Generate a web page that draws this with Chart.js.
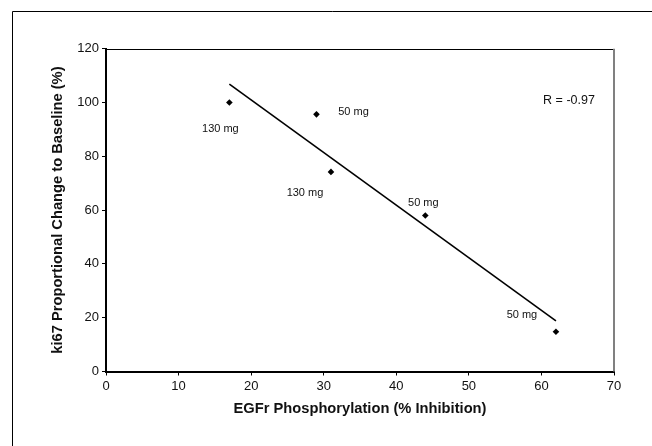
<!DOCTYPE html>
<html>
<head>
<meta charset="utf-8">
<script src="https://cdn.jsdelivr.net/npm/chart.js@4"></script>
<style>
  html, body { margin: 0; padding: 0; background: #fff; overflow: hidden; }
  canvas { display: block; }
</style>
</head>
<body>
<canvas id="c" width="652" height="446"></canvas>
<script>
// Data
const inhibition = [17, 29, 31, 44, 62];            // EGFr phosphorylation (% inhibition)
const ki67Change = [100, 95.6, 74.2, 58, 14.8];      // ki67 proportional change to baseline (%)
const doseLabels = ['130 mg', '50 mg', '130 mg', '50 mg', '50 mg'];
const trendX = [17, 62];
const trendY = [106.8, 18.8];
const xTicks = [0, 10, 20, 30, 40, 50, 60, 70];
const yTicks = [0, 20, 40, 60, 80, 100, 120];
const rText = 'R = -0.97';

// label offsets (pixels, relative to each point)
const labelOffsets = [[-9, 26], [37, -2], [-26, 21], [-2, -13], [-34, -17]];

const points = inhibition.map((x, i) => ({ x: x, y: ki67Change[i] }));
const trend = trendX.map((x, i) => ({ x: x, y: trendY[i] }));

const FONT = '"Liberation Sans", Arial, sans-serif';

const outerFrame = {
  id: 'outerFrame',
  beforeDraw(chart) {
    const ctx = chart.ctx;
    ctx.save();
    ctx.strokeStyle = '#000';
    ctx.lineWidth = 1;
    ctx.beginPath();
    ctx.moveTo(12.5, chart.height);
    ctx.lineTo(12.5, 11.5);
    ctx.lineTo(chart.width, 11.5);
    ctx.stroke();
    ctx.restore();
  }
};

const annotate = {
  id: 'annotate',
  afterDatasetsDraw(chart) {
    const ctx = chart.ctx;
    const meta = chart.getDatasetMeta(1);
    ctx.save();
    ctx.fillStyle = '#111';
    ctx.font = '11px ' + FONT;
    ctx.textAlign = 'center';
    ctx.textBaseline = 'middle';
    meta.data.forEach((el, i) => {
      const off = labelOffsets[i];
      ctx.fillText(doseLabels[i], el.x + off[0], el.y + off[1]);
    });
    const a = chart.chartArea;
    ctx.font = '12.5px ' + FONT;
    ctx.fillText(rText, a.right - 45, a.top + 52);
    // top and right plot border
    ctx.lineWidth = 1;
    ctx.strokeStyle = '#000';
    ctx.beginPath();
    ctx.moveTo(a.left, Math.round(a.top) + 0.5);
    ctx.lineTo(a.right, Math.round(a.top) + 0.5);
    ctx.stroke();
    ctx.strokeStyle = '#808080';
    ctx.lineWidth = 2;
    ctx.beginPath();
    ctx.moveTo(Math.round(a.right), a.top);
    ctx.lineTo(Math.round(a.right), a.bottom);
    ctx.stroke();
    ctx.restore();
  }
};

new Chart(document.getElementById('c'), {
  type: 'scatter',
  data: {
    datasets: [
      {
        type: 'line',
        data: trend,
        borderColor: '#000',
        borderWidth: 1.6,
        pointRadius: 0,
        fill: false
      },
      {
        data: points,
        pointStyle: 'rectRot',
        pointRadius: 3.3,
        backgroundColor: '#000',
        borderColor: '#000',
        borderWidth: 0
      }
    ]
  },
  options: {
    responsive: false,
    animation: false,
    events: [],
    layout: { padding: { top: 48.7, right: 38, left: 0, bottom: 0 } },
    plugins: { legend: { display: false }, tooltip: { enabled: false } },
    scales: {
      x: {
        type: 'linear',
        min: 0, max: 70,
        afterBuildTicks(s) { s.ticks = xTicks.map(v => ({ value: v })); },
        afterFit(s) { s.height = 74.5; },
        grid: { drawOnChartArea: false, drawTicks: true, tickLength: 4, color: '#000', lineWidth: 1 },
        border: { color: '#000', width: 2 },
        ticks: { color: '#111', padding: 3, maxRotation: 0, font: { family: FONT, size: 13 } },
        title: {
          display: true,
          text: 'EGFr Phosphorylation (% Inhibition)',
          color: '#111',
          font: { family: FONT, size: 14.7, weight: 'bold' },
          padding: { top: 0, bottom: 28 }
        }
      },
      y: {
        type: 'linear',
        min: 0, max: 120,
        afterBuildTicks(s) { s.ticks = yTicks.map(v => ({ value: v })); },
        afterFit(s) { s.width = 106; },
        grid: { drawOnChartArea: false, drawTicks: true, tickLength: 4, color: '#000', lineWidth: 1 },
        border: { color: '#000', width: 2 },
        ticks: { color: '#111', padding: 3, font: { family: FONT, size: 13 } },
        title: {
          display: true,
          text: 'ki67 Proportional Change to Baseline (%)',
          color: '#111',
          font: { family: FONT, size: 14.7, weight: 'bold' },
          padding: { top: 49, bottom: 0 }
        }
      }
    }
  },
  plugins: [outerFrame, annotate]
});
</script>
</body>
</html>
